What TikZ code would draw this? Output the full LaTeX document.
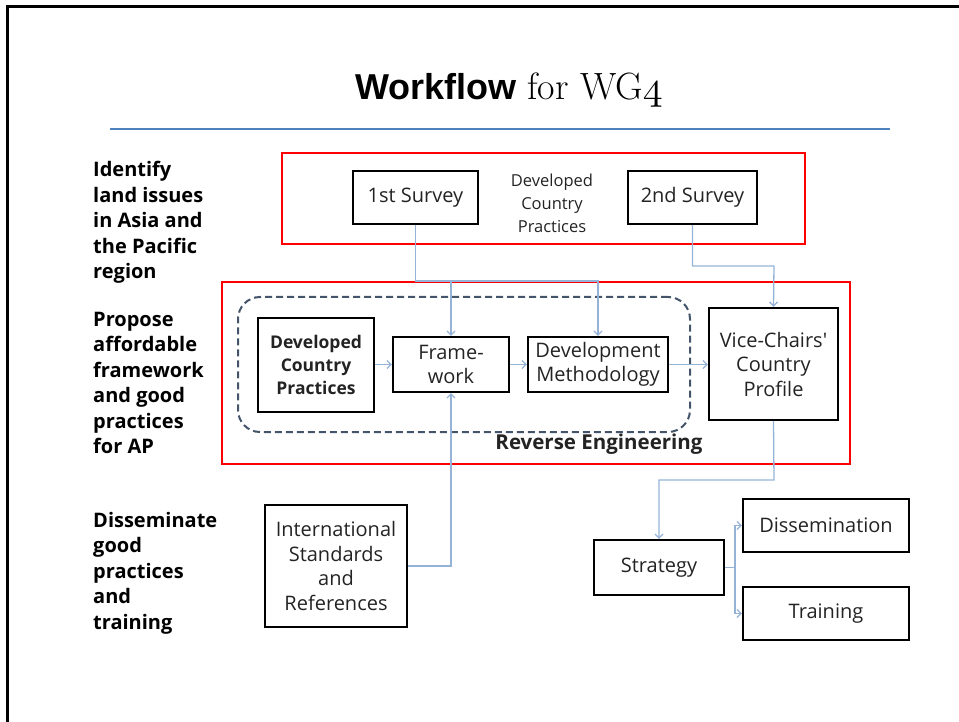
\documentclass[tikz,border=0pt]{standalone}
\usepackage{graphicx}
\usepackage{fontspec}
\newfontfamily\osans{Open Sans}
\newfontfamily\lsans{Liberation Sans}
\usetikzlibrary{arrows.meta}
\definecolor{connc}{RGB}{149,179,215}
\definecolor{dashc}{RGB}{68,84,106}
\definecolor{sepc}{RGB}{79,129,189}
\definecolor{redc}{RGB}{255,0,0}
\definecolor{txtc}{RGB}{35,35,35}
\begin{document}
\begin{tikzpicture}[x=1pt,y=-1pt,
  box/.style={draw=black,line width=2.2pt,align=center,inner sep=0pt,text=txtc,
    font=\osans\fontsize{20}{24.5}\selectfont},
  redbox/.style={draw=redc,line width=2pt,inner sep=0pt},
  conn/.style={draw=connc,line width=1.3pt},
  arr/.style={conn,-{Straight Barb[length=4pt,width=8pt]}},
  lefttext/.style={anchor=north west,align=left,inner sep=0pt,
    font=\osans\bfseries\fontsize{20}{25.5}\selectfont}]
\useasboundingbox (0,0) rectangle (959,722);
% page border
\draw[line width=3pt] (7.5,722) -- (7.5,6.5) -- (959,6.5);
% title
\node (title) at (509,100) [anchor=base,inner sep=0pt,font=\fontsize{36}{40}\selectfont]
  {{\lsans\bfseries Workflow} {\fontsize{38}{40}\selectfont for WG{\fontsize{10}{12}\usefont{OML}{cmm}{m}{it}\scalebox{4}{4}}}};
\draw[sepc,line width=2.5pt] (110,129) -- (890,129);
% red groups
\node[redbox,minimum width=523,minimum height=91] (r1) at (543.5,198.5) {};
\node[redbox,minimum width=628,minimum height=182] (r2) at (536,373) {};
% dashed group
\node[draw=dashc,line width=2pt,dash pattern=on 7pt off 4pt,rounded corners=22pt,
  minimum width=452,minimum height=135,inner sep=0pt] (re) at (464,364.5) {};
\node[font=\osans\bfseries\fontsize{20.5}{24}\selectfont,inner sep=0pt,text=txtc] (ret) at (599,444) {Reverse Engineering};
% left labels
\node[lefttext] (l1) at (93,161) {Identify\\land issues\\in Asia and\\the Pacific\\region};
\node[lefttext] (l2) at (93,312) {Propose\\affordable\\framework\\and good\\practices\\for AP};
\node[lefttext] (l3) at (93,512) {Disseminate\\good\\practices\\and\\training};
% boxes
\node[box,minimum width=125,minimum height=53] (s1) at (415.5,197.5) {1st Survey};
\node[box,minimum width=129,minimum height=53] (s2) at (692.5,197.5) {2nd Survey};
\node[align=center,inner sep=0pt,text=txtc,font=\osans\fontsize{16.5}{23}\selectfont] (dcpt) at (552,203) {Developed\\Country\\Practices};
\node[box,minimum width=116,minimum height=94,font=\osans\bfseries\fontsize{17.5}{23}\selectfont] (dcp) at (316,365) {Developed\\Country\\Practices};
\node[box,minimum width=116,minimum height=55] (fw) at (451,364.5) {Frame-\\work};
\node[box,minimum width=140,minimum height=55] (dm) at (598,364.5) {Development\\Methodology};
\node[box,minimum width=129,minimum height=112] (vc) at (773.5,364) {Vice-Chairs'\\Country\\Profile};
\node[box,minimum width=142,minimum height=122] (isr) at (336,566) {International\\Standards\\and\\References};
\node[box,minimum width=130,minimum height=55] (st) at (659,567.5) {Strategy};
\node[box,minimum width=166,minimum height=53] (dis) at (826,525.5) {Dissemination};
\node[box,minimum width=166,minimum height=53] (tr) at (826,613.5) {Training};
% junction coordinates
\coordinate (j1) at (415.5,281);
\coordinate (j2) at (774,266);
\coordinate (j3) at (774,480);
\coordinate (j4) at (735,567.5);
% connectors
\draw[arr] (s1.south) |- (j1) -| (dm.north);
\draw[arr] (fw.north |- j1) -- (fw.north);
\draw[arr] (s2.south) |- (j2) -- (vc.north);
\draw[arr] (dcp.east |- fw.west) -- (fw.west);
\draw[arr] (fw.east) -- (dm.west);
\draw[arr] (dm.east) -- (vc.west |- dm.east);
\draw[arr] (isr.east) -| (fw.south);
\draw[arr] (vc.south) -- (j3) -| (st.north);
\draw[conn] (st.east) -- (j4);
\draw[arr] (j4) |- (dis.west);
\draw[arr] (j4) |- (tr.west);
\end{tikzpicture}
\end{document}
